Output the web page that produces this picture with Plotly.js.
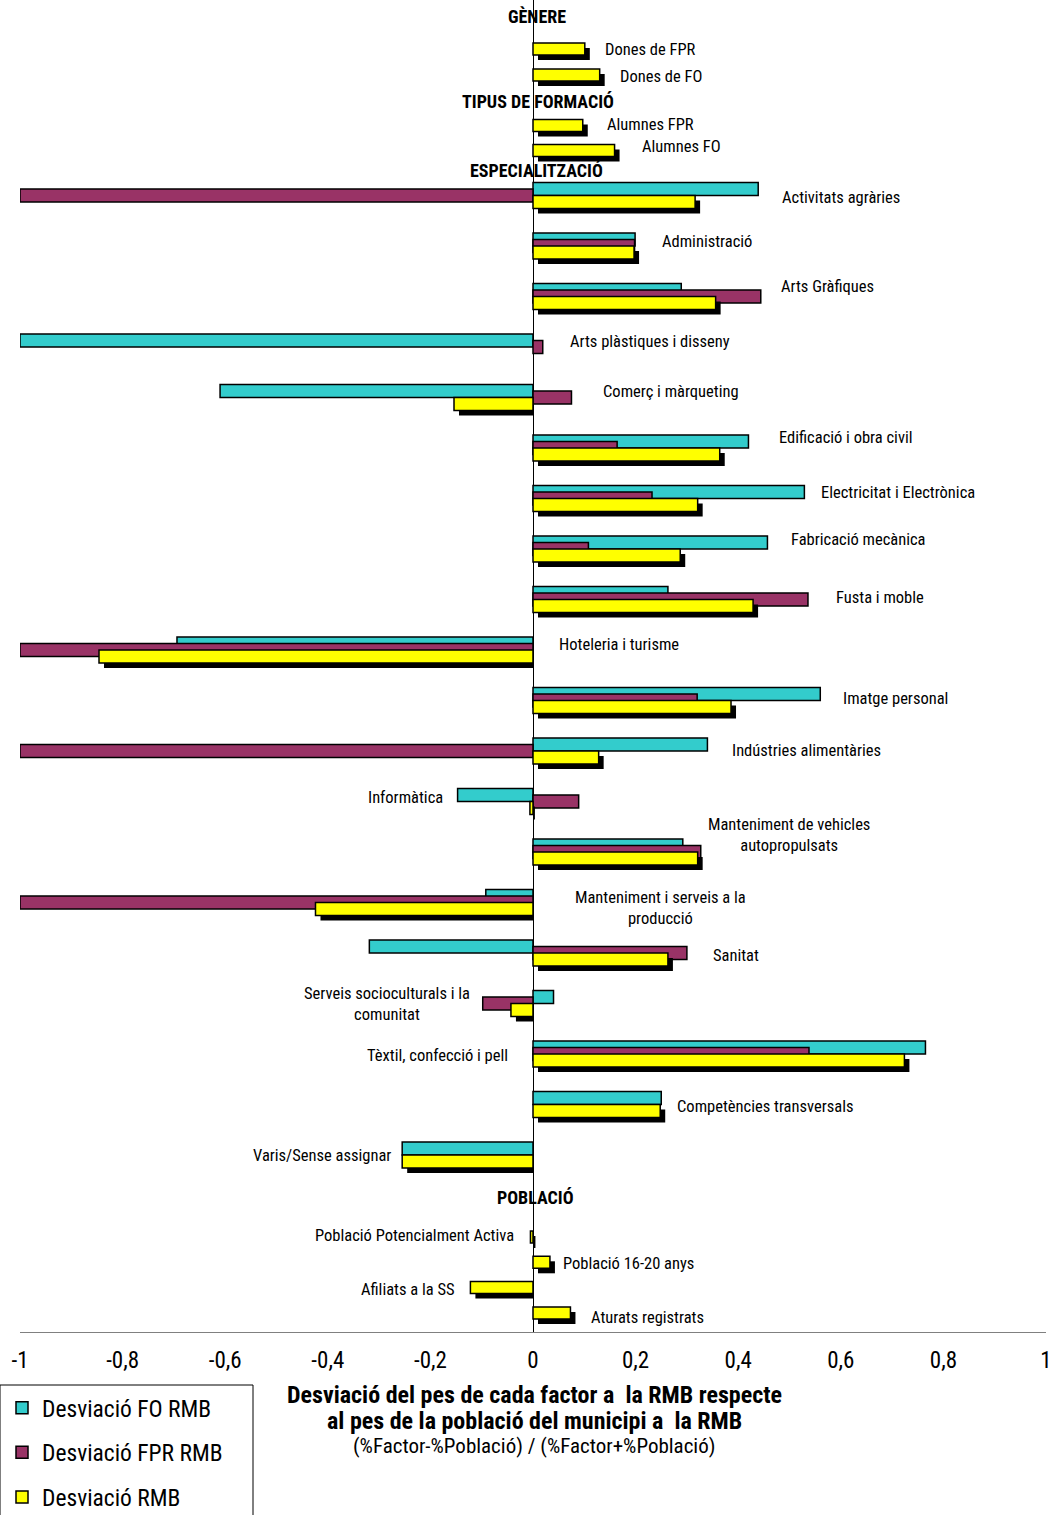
<!DOCTYPE html>
<html>
<head>
<meta charset="utf-8">
<script src="https://cdn.plot.ly/plotly-3.0.1.min.js"></script>
<style>
  html, body { margin: 0; padding: 0; background: #ffffff; }
  #chart { width: 1051px; height: 1515px; }
</style>
</head>
<body>
<div id="chart"></div>
<script>
// ---------------- DATA ----------------
const headers = ['GÈNERE', 'TIPUS DE FORMACIÓ', 'ESPECIALITZACIÓ', 'POBLACIÓ'];

const genereCats = ['Dones de FPR', 'Dones de FO'];
const genereRMB  = [0.101, 0.130];

const tipusCats = ['Alumnes FPR', 'Alumnes FO'];
const tipusRMB  = [0.097, 0.159];

const specCats = [
  'Activitats agràries', 'Administració', 'Arts Gràfiques', 'Arts plàstiques i disseny',
  'Comerç i màrqueting', 'Edificació i obra civil', 'Electricitat i Electrònica',
  'Fabricació mecànica', 'Fusta i moble', 'Hoteleria i turisme', 'Imatge personal',
  'Indústries alimentàries', 'Informàtica', 'Manteniment de vehicles<br>autopropulsats',
  'Manteniment i serveis a la<br>producció', 'Sanitat', 'Serveis socioculturals i la<br>comunitat',
  'Tèxtil, confecció i pell', 'Competències transversals', 'Varis/Sense assignar'
];
const specFO  = [0.439, 0.199, 0.289, -1.000, -0.610, 0.420, 0.529, 0.457, 0.263, -0.694,
                 0.560, 0.340, -0.147, 0.292, -0.092, -0.319, 0.040, 0.765, 0.250, -0.255];
const specFPR = [-1.000, 0.198, 0.444, 0.019, 0.075, 0.164, 0.232, 0.108, 0.536, -1.000,
                 0.320, -1.000, 0.089, 0.327, -1.000, 0.300, -0.098, 0.538, null, null];
const specRMB = [0.316, 0.197, 0.356, null, -0.154, 0.364, 0.321, 0.287, 0.429, -0.846,
                 0.386, 0.128, -0.006, 0.321, -0.424, 0.263, -0.043, 0.724, 0.248, -0.255];

const pobCats = ['Població Potencialment Activa', 'Població 16-20 anys', 'Afiliats a la SS', 'Aturats registrats'];
const pobRMB  = [-0.005, 0.033, -0.122, 0.073];

const seriesNames = ['Desviació FO RMB', 'Desviació FPR RMB', 'Desviació RMB'];
const tickVals   = [-1, -0.8, -0.6, -0.4, -0.2, 0, 0.2, 0.4, 0.6, 0.8, 1];
const tickLabels = ['-1', '-0,8', '-0,6', '-0,4', '-0,2', '0', '0,2', '0,4', '0,6', '0,8', '1'];

const titleLines = [
  'Desviació del pes de cada factor a  la RMB respecte',
  'al pes de la població del municipi a  la RMB',
  '(%Factor-%Població) / (%Factor+%Població)'
];

// ---------------- LAYOUT HELPERS (vertical slots, in px-like units of the y axis) ----------------
const M_L = 20, M_R = 5;
const PLOT_H = 1332;                 // y axis spans 0 (top) .. 1332 (bottom)
const PLOT_W = 1051 - M_L - M_R;
const PX_PER_UNIT = PLOT_W / 2;      // horizontal px per x unit
const headerY = [16, 101, 170, 1197];
const genereSlots = { start: 49,    step: 26   };
const tipusSlots  = { start: 125.5, step: 25   };
const specSlots   = { start: 195.5, step: 50.5 };
const pobSlots    = { start: 1237,  step: 25.3 };
const slot = (s, i) => s.start + s.step * i;

const BAR_H = 13, SUB = 6.5, SHADOW = 5;
const dx = SHADOW / PX_PER_UNIT;

// Build series arrays
const foY = [], foX = [], fprY = [], fprX = [], rmbY = [], rmbX = [], rmbW = [];
specCats.forEach((c, i) => {
  const yc = slot(specSlots, i);
  foY.push(yc - SUB);  foX.push(specFO[i]);
  fprY.push(yc);       fprX.push(specFPR[i]);
  rmbY.push(yc + SUB); rmbX.push(specRMB[i]); rmbW.push(BAR_H);
});
[[genereSlots, genereRMB], [tipusSlots, tipusRMB], [pobSlots, pobRMB]].forEach(([s, vals]) => {
  vals.forEach((v, i) => { rmbY.push(slot(s, i)); rmbX.push(v); rmbW.push(12); });
});
// Shadow of the yellow bars
const shY = rmbY.map(y => y + SHADOW);
const shX = rmbX.map(v => v == null ? null : (v < 0 ? v + dx : v));
const shBase = rmbX.map(v => v == null ? 0 : (v < 0 ? 0 : dx));

const FONT = "'Liberation Sans Narrow', 'Arial Narrow', 'Roboto Condensed', 'DejaVu Sans Condensed', sans-serif";
const outline = { color: '#000000', width: 1.5 };

const traces = [
  { type: 'bar', orientation: 'h', name: seriesNames[0], x: foX, y: foY, width: BAR_H,
    marker: { color: '#33CCCC', line: outline }, legendgroup: 'a', hoverinfo: 'x' },
  { type: 'bar', orientation: 'h', name: seriesNames[1], x: fprX, y: fprY, width: BAR_H,
    marker: { color: '#993366', line: outline }, legendgroup: 'b', hoverinfo: 'x' },
  { type: 'bar', orientation: 'h', name: 'shadow', x: shX, y: shY, base: shBase, width: rmbW,
    marker: { color: '#000000', line: { width: 0 } }, showlegend: false, hoverinfo: 'skip', legendgroup: 'z' },
  { type: 'bar', orientation: 'h', name: seriesNames[2], x: rmbX, y: rmbY, width: rmbW,
    marker: { color: '#FFFF00', line: outline }, legendgroup: 'c', hoverinfo: 'x' }
];

// ---------------- LABEL PLACEMENT (px positions of the text in the picture) ----------------
const px2x = p => (p - M_L) / PX_PER_UNIT - 1;
const py2paper = p => (PLOT_H - p) / PLOT_H;
const px2paper = p => (p - M_L) / PLOT_W;
// [x px, y px, anchor]
const genereLabelPos = [[603, 49, 'left'], [618, 76, 'left']];
const tipusLabelPos  = [[605, 124, 'left'], [640, 146, 'left']];
const specLabelPos = [
  [780, 197, 'left'], [660, 241, 'left'], [779, 286, 'left'], [568, 341, 'left'],
  [601, 391, 'left'], [777, 437, 'left'], [819, 492, 'left'], [789, 539, 'left'],
  [834, 597, 'left'], [557, 644, 'left'], [841, 698, 'left'], [730, 750, 'left'],
  [445, 797, 'right'], [789, 834.5, 'center'], [660, 907.5, 'center'], [711, 955, 'left'],
  [387, 1003.5, 'center'], [510, 1055, 'right'], [675, 1106, 'left'], [393, 1155, 'right']
];
const pobLabelPos = [[516, 1235, 'right'], [561, 1263, 'left'], [457, 1289, 'right'], [589, 1317, 'left']];
const headerX = [537, 538, 536, 535];
const titleY = [1395, 1421, 1446];
const titleSize = [24, 24, 21];

const annotations = [];
const addLabels = (cats, pos) => cats.forEach((t, i) => {
  const [xp, yp, anc] = pos[i];
  annotations.push({ text: t, x: px2x(xp), y: yp, xref: 'x', yref: 'y', xanchor: anc, yanchor: 'middle',
    align: 'center', showarrow: false, font: { family: FONT, size: 16.5, color: '#000' } });
});
addLabels(genereCats, genereLabelPos);
addLabels(tipusCats, tipusLabelPos);
addLabels(specCats, specLabelPos);
addLabels(pobCats, pobLabelPos);
headers.forEach((h, i) => annotations.push({
  text: '<b>' + h + '</b>', x: px2x(headerX[i]), y: headerY[i], xref: 'x', yref: 'y',
  xanchor: 'center', yanchor: 'middle', showarrow: false, font: { family: FONT, size: 18, color: '#000' }
}));
// axis title block (three lines)
titleLines.forEach((t, i) => annotations.push({
  text: i < 2 ? '<b>' + t + '</b>' : t,
  x: px2paper(534), y: py2paper(titleY[i]), xref: 'paper', yref: 'paper',
  xanchor: 'center', yanchor: 'middle', showarrow: false,
  font: { family: FONT, size: titleSize[i], color: '#000' }
}));

const layout = {
  width: 1051, height: 1515,
  margin: { l: M_L, r: M_R, t: 0, b: 183, pad: 0, autoexpand: false },
  paper_bgcolor: '#ffffff', plot_bgcolor: '#ffffff',
  barmode: 'overlay',
  showlegend: true,
  legend: {
    x: px2paper(2), xanchor: 'left', y: py2paper(1386), yanchor: 'top',
    borderwidth: 0, bgcolor: 'rgba(0,0,0,0)',
    font: { family: FONT, size: 23.5, color: '#000' },
    tracegroupgap: 11, traceorder: 'grouped'
  },
  shapes: [{
    type: 'rect', xref: 'paper', yref: 'paper',
    x0: px2paper(0), x1: px2paper(253), y0: py2paper(1540), y1: py2paper(1385),
    line: { color: '#000000', width: 1 }, fillcolor: 'rgba(0,0,0,0)', layer: 'below'
  }],
  xaxis: {
    range: [-1, 1], tickvals: tickVals, ticktext: tickLabels,
    showgrid: false, zeroline: true, zerolinecolor: '#000000', zerolinewidth: 1,
    showline: true, linecolor: '#808080', linewidth: 1,
    ticks: 'outside', ticklen: 7, tickcolor: 'rgba(0,0,0,0)',
    ticklabeloverflow: 'allow', automargin: false,
    tickfont: { family: FONT, size: 23, color: '#000' }, fixedrange: true
  },
  yaxis: { range: [PLOT_H, 0], visible: false, showgrid: false, zeroline: false, fixedrange: true, automargin: false },
  annotations: annotations
};

Plotly.newPlot('chart', traces, layout, { displayModeBar: false, staticPlot: true });
</script>
</body>
</html>
